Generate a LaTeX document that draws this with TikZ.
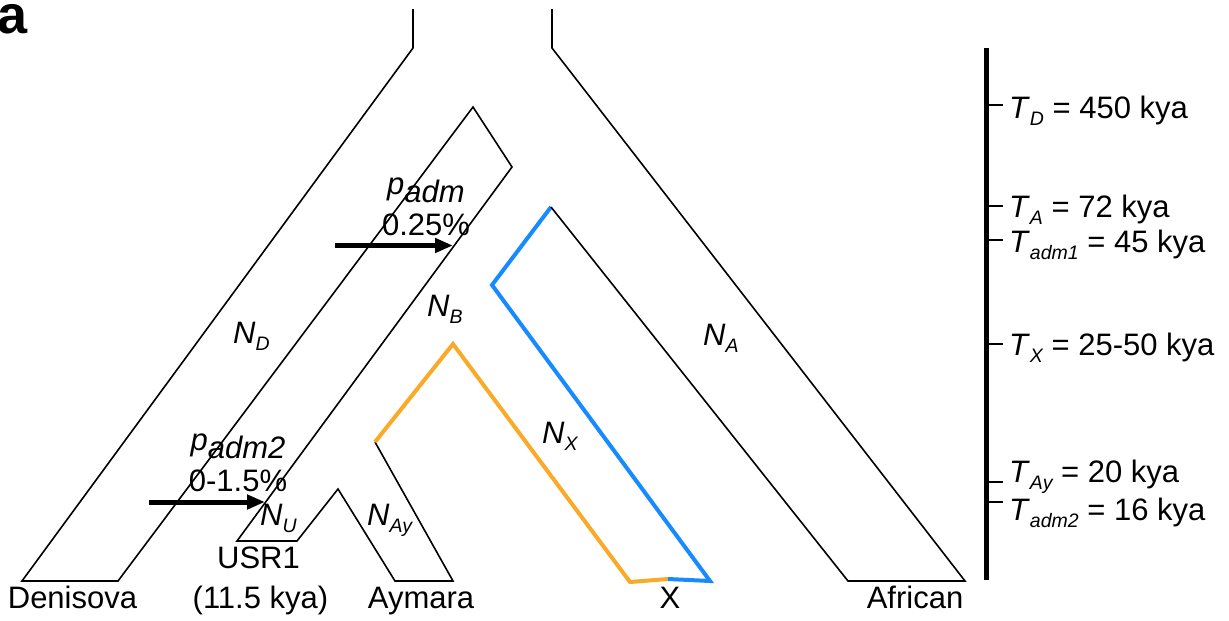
\documentclass[tikz,border=0pt]{standalone}
\usepackage{fontspec}
\setmainfont{Liberation Sans}
\usetikzlibrary{arrows.meta}

\definecolor{lineageX}{RGB}{24,138,255}
\definecolor{lineageAy}{RGB}{248,170,40}

% italic symbol with a lowered italic subscript
\newcommand{\lowsub}[1]{\raisebox{-7pt}{\fontsize{19.5}{19.5}\selectfont\itshape #1}}
\newcommand{\sym}[2]{\textit{#1}\lowsub{#2}}

\begin{document}
\begin{tikzpicture}[x=1pt,y=-1pt,
  every node/.style={inner sep=0pt,font=\fontsize{31}{31}\selectfont},
  branch/.style={line width=1.6pt,line join=miter,draw=black},
  xedge/.style={line width=4pt,line join=miter,draw=lineageX},
  ayedge/.style={line width=4pt,line join=miter,draw=lineageAy},
  admarrow/.style={line width=5pt,-{Triangle[length=18pt,width=14pt]}},
  timeaxis/.style={line width=5pt},
  tick/.style={line width=1.5pt},
  poplabel/.style={anchor=base west},
  leaf/.style={anchor=base},
  timelabel/.style={anchor=base west}]

\useasboundingbox (0,0) rectangle (1229,621);

% panel letter
\node[anchor=base west,font=\fontsize{54}{54}\selectfont\bfseries] (panel) at (-3,33) {a};

% ---- population tree outline ----
% Denisova branch and the left side of the ancestral trunk
\draw[branch] (413,9) -- (413,48) -- (22,581) -- (118,581) -- (473,107)
  -- (512,167) -- (237,541) -- (297,541) -- (338,489) -- (395,581)
  -- (453,581) -- (375,442);
% Aymara lineage into X
\draw[ayedge] (375,442) -- (453,344) -- (630,582) -- (668,579);
% Basal lineage into X
\draw[xedge] (668,579) -- (710,581) -- (492,285) -- (551,207);
% African branch and the right side of the trunk
\draw[branch] (551,207) -- (848,581) -- (965,581) -- (552,48) -- (552,9);

% ---- admixture pulses ----
\coordinate (adm1src) at (335,245.5);
\coordinate (adm1dst) at (453,245.5);
\draw[admarrow] (adm1src) -- (adm1dst);
\node[leaf] (padm) at (426,202) {\raisebox{8pt}{\textit{p}}\textit{adm}};
\node[leaf] (padmval) at (426,235) {0.25\%};

\coordinate (adm2src) at (149,502);
\coordinate (adm2dst) at (265,502);
\draw[admarrow] (adm2src) -- (adm2dst);
\node[leaf] (padmtwo) at (238,458) {\raisebox{8pt}{\textit{p}}\textit{adm2}};
\node[leaf] (padmtwoval) at (238,491.5) {0-1.5\%};

% ---- effective population sizes ----
\node[poplabel] (ND)  at (233,343)   {\sym{N}{D}};
\node[poplabel] (NB)  at (427,316.5) {\sym{N}{B}};
\node[poplabel] (NA)  at (703,345)   {\sym{N}{A}};
\node[poplabel] (NX)  at (542,443)   {\sym{N}{X}};
\node[poplabel] (NU)  at (260,525)   {\sym{N}{U}};
\node[poplabel] (NAy) at (367,525)   {\sym{N}{Ay}};

% ---- sampled populations ----
\node[leaf] (denisova) at (72.5,608) {Denisova};
\node[leaf] (usr)      at (258.5,568) {USR1};
\node[leaf] (usrage)   at (260.5,608) {(11.5 kya)};
\node[leaf] (aymara)   at (421,608) {Aymara};
\node[leaf] (popx)     at (670,608) {X};
\node[leaf] (african)  at (915,608) {African};

% ---- time axis ----
\draw[timeaxis] (986,48) -- (986,580);
\foreach \y in {105,206,240,344,482,502}
  \draw[tick] (986,\y) -- (1003,\y);
\node[timelabel] (TD)    at (1009,118) {\sym{T}{D} = 450 kya};
\node[timelabel] (TA)    at (1009,217) {\sym{T}{A} = 72 kya};
\node[timelabel] (Tadm1) at (1009,252) {\sym{T}{adm1} = 45 kya};
\node[timelabel] (TX)    at (1009,355) {\sym{T}{X} = 25-50 kya};
\node[timelabel] (TAy)   at (1009,482) {\sym{T}{Ay} = 20 kya};
\node[timelabel] (Tadm2) at (1009,520) {\sym{T}{adm2} = 16 kya};

\end{tikzpicture}
\end{document}
